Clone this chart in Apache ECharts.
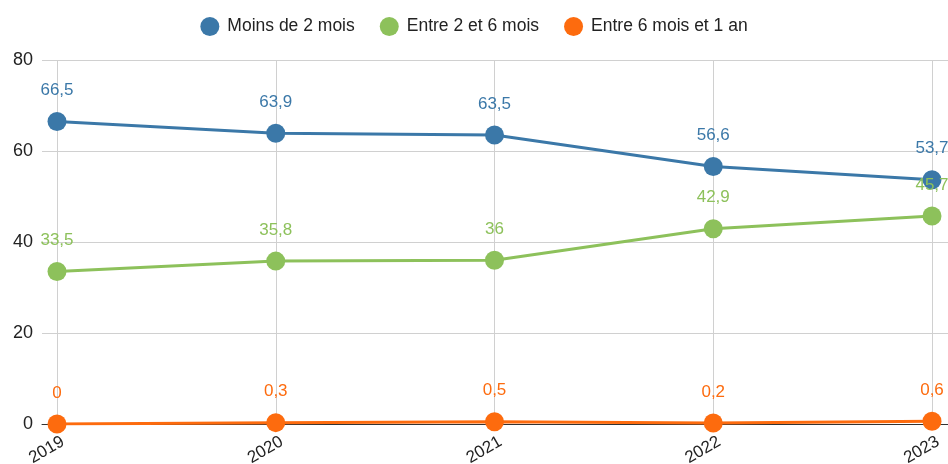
<!DOCTYPE html>
<html>
<head>
    <meta charset="utf-8">
    <title>ECharts</title>
    <script src="https://cdn.jsdelivr.net/npm/echarts@6/dist/echarts.min.js"></script>
    <style>
        html, body { margin: 0; padding: 0; background: #fff; }
    </style>
</head>
<body>
    <div id="main" style="width: 948px;height:464px;"></div>
    <script type="text/javascript">
        // données
        var annees = ['2019', '2020', '2021', '2022', '2023'];
        var moinsDe2Mois = [66.5, 63.9, 63.5, 56.6, 53.7];
        var entre2et6Mois = [33.5, 35.8, 36, 42.9, 45.7];
        var entre6MoisEt1An = [0, 0.3, 0.5, 0.2, 0.6];
        var nomsSeries = ['Moins de 2 mois', 'Entre 2 et 6 mois', 'Entre 6 mois et 1 an'];
        var couleurs = ['#3b78a8', '#8dc15b', '#fd6b0e'];

        var myChart = echarts.init(document.getElementById('main'));

        function serie(nom, data, couleur) {
            return {
                name: nom,
                type: 'line',
                xAxisIndex: 1,
                yAxisIndex: 1,
                data: data,
                symbol: 'circle',
                symbolSize: 19,
                showAllSymbol: true,
                lineStyle: { width: 3, color: couleur },
                itemStyle: { color: couleur },
                label: {
                    show: true,
                    position: 'top',
                    distance: 13,
                    color: couleur,
                    fontSize: 17,
                    formatter: function (p) { return String(p.value).replace('.', ','); }
                },
                emphasis: { disabled: true },
                animation: false
            };
        }

        var option = {
            textStyle: { fontFamily: 'Liberation Sans' },
            legend: {
                top: 12,
                left: 'center',
                icon: 'circle',
                itemWidth: 25,
                itemHeight: 19,
                itemGap: 25,
                textStyle: { fontSize: 17.5, color: '#222' },
                data: nomsSeries
            },
            grid: [
                { left: 42, right: 0, top: 60, bottom: 40, outerBoundsMode: 'none', containLabel: false },
                { left: 57, right: 16, top: 60, bottom: 40, outerBoundsMode: 'none', containLabel: false }
            ],
            xAxis: [
                {
                    gridIndex: 0,
                    type: 'value',
                    min: 0, max: 1,
                    axisLine: { show: true, onZero: false, lineStyle: { color: '#333', width: 1 } },
                    axisTick: { show: false },
                    axisLabel: { show: false },
                    splitLine: { show: false }
                },
                {
                    gridIndex: 1,
                    type: 'category',
                    boundaryGap: false,
                    data: annees,
                    axisLine: { show: false },
                    axisTick: { show: false },
                    axisLabel: {
                        rotate: 30,
                        fontSize: 17,
                        color: '#222',
                        margin: 20,
                        padding: [0, -7, 0, 0],
                        interval: 0
                    },
                    splitLine: { show: true, lineStyle: { color: '#d0d0d0', width: 1 } }
                }
            ],
            yAxis: [
                {
                    gridIndex: 0,
                    type: 'value',
                    min: 0, max: 80, interval: 20,
                    axisLine: { show: false },
                    axisTick: { show: false },
                    axisLabel: { fontSize: 18, color: '#222', margin: 9 },
                    splitLine: { show: true, lineStyle: { color: '#d0d0d0', width: 1 } }
                },
                {
                    gridIndex: 1,
                    type: 'value',
                    min: 0, max: 80, interval: 20,
                    show: false
                }
            ],
            series: [
                serie(nomsSeries[0], moinsDe2Mois, couleurs[0]),
                serie(nomsSeries[1], entre2et6Mois, couleurs[1]),
                serie(nomsSeries[2], entre6MoisEt1An, couleurs[2])
            ],
            animation: false
        };

        myChart.setOption(option);
    </script>
</body>
</html>
